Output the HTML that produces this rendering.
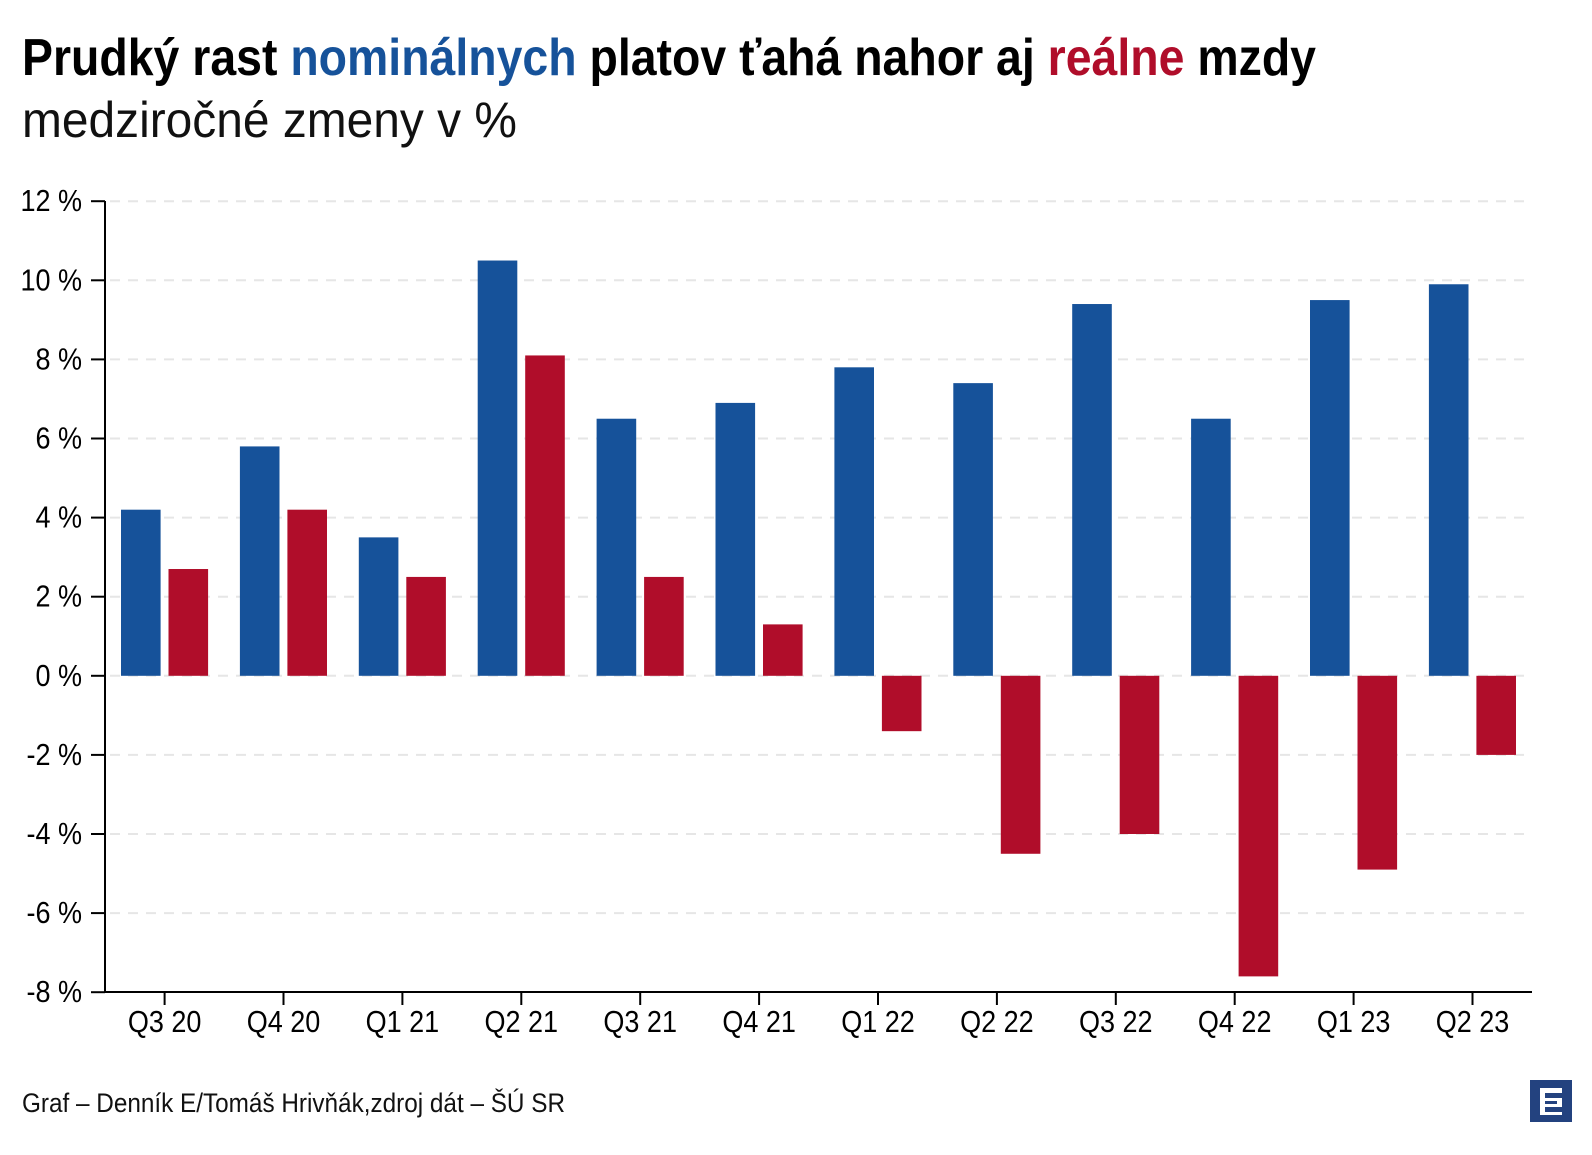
<!DOCTYPE html>
<html><head><meta charset="utf-8"><style>
html,body{margin:0;padding:0;background:#fff}
text{font-family:"Liberation Sans Narrow","Liberation Sans",sans-serif}
</style></head><body>
<svg width="1592" height="1150" viewBox="0 0 1592 1150" xmlns="http://www.w3.org/2000/svg">
<text x="22" y="75" font-size="52" font-weight="bold" textLength="1294" lengthAdjust="spacingAndGlyphs" fill="#000">Prudký rast <tspan fill="#16529a">nominálnych</tspan> platov ťahá nahor aj <tspan fill="#b00d2a">reálne</tspan> mzdy</text>
<text x="22" y="137" font-size="50" textLength="495" lengthAdjust="spacingAndGlyphs" fill="#111">medziročné zmeny v %</text>
<g id="grid" stroke="#e6e6e6" stroke-width="2" stroke-dasharray="10,8">
</g>
<g id="bars"></g>
<line x1="105" y1="201" x2="105" y2="992" stroke="#000" stroke-width="2"/>
<line x1="105" y1="992" x2="1532" y2="992" stroke="#000" stroke-width="2"/>
<g id="ax"></g>
<text x="22" y="1112" font-size="27" textLength="543" lengthAdjust="spacingAndGlyphs" fill="#111">Graf – Denník E/Tomáš Hrivňák,zdroj dát – ŠÚ SR</text>
<rect x="1530" y="1080" width="42" height="42" fill="#23427f"/>
<path d="M1540 1088 H1562 V1093 H1545 V1098 H1562 V1107 H1545 V1112 H1562 V1115 H1540 Z M1545 1101 V1104 H1557 V1101 Z" fill="#fff"/>
</svg>
<script>
var ns="http://www.w3.org/2000/svg";
function el(p,t,a,txt){var e=document.createElementNS(ns,t);for(var k in a)e.setAttribute(k,a[k]);if(txt)e.textContent=txt;document.getElementById(p).appendChild(e);return e;}
function lab(a,txt){var e=el("ax","text",a,txt);var w=e.getComputedTextLength();e.setAttribute("font-size",31);e.setAttribute("textLength",w);e.setAttribute("lengthAdjust","spacingAndGlyphs");}
var z=675.8,s=79.1/2;
for(var v=-8;v<=12;v+=2){var y=z-v*s;
 if(v!=-8) el("grid","line",{x1:110,y1:y,x2:1532,y2:y});
 el("ax","line",{x1:91,y1:y,x2:105,y2:y,stroke:"#000","stroke-width":2});
 lab({x:82,y:y+10,"font-size":27,"text-anchor":"end",fill:"#000"},v+" %");}
var b=[4.2,5.8,3.5,10.5,6.5,6.9,7.8,7.4,9.4,6.5,9.5,9.9],r=[2.7,4.2,2.5,8.1,2.5,1.3,-1.4,-4.5,-4.0,-7.6,-4.9,-2.0];
var L=["Q3 20","Q4 20","Q1 21","Q2 21","Q3 21","Q4 21","Q1 22","Q2 22","Q3 22","Q4 22","Q1 23","Q2 23"];
for(var i=0;i<12;i++){var x=121+i*118.9;
 el("bars","rect",{x:x,y:Math.min(z,z-b[i]*s),width:39.6,height:Math.abs(b[i]*s),fill:"#16529a"});
 el("bars","rect",{x:x+47.5,y:Math.min(z,z-r[i]*s),width:39.6,height:Math.abs(r[i]*s),fill:"#b00d2a"});
 var t=164.6+i*118.9;
 el("ax","line",{x1:t,y1:992,x2:t,y2:1005,stroke:"#000","stroke-width":2});
 lab({x:t,y:1032,"font-size":27,"text-anchor":"middle",fill:"#000"},L[i]);}
</script>
</body></html>
